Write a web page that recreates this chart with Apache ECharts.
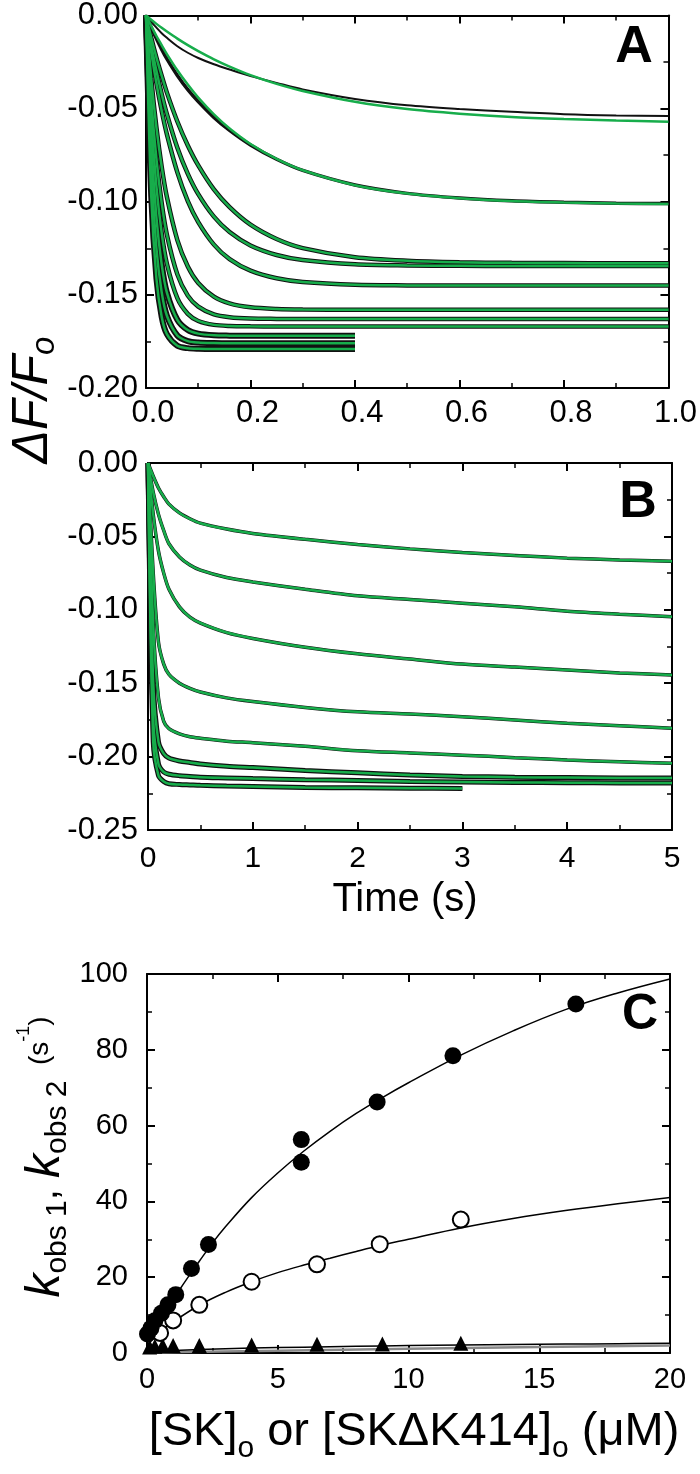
<!DOCTYPE html>
<html><head><meta charset="utf-8">
<script src="https://cdn.jsdelivr.net/npm/echarts@6/dist/echarts.min.js"></script>
<style>html,body{margin:0;padding:0;background:#fff}#c{width:700px;height:1474px}</style>
</head><body><div id="c"></div>
<script>
// ---------- Panel A : time (s) and ΔF/Fo traces ----------
const tA = [0,0.01,0.02,0.03,0.04,0.06,0.08,0.1,0.13,0.16,0.2,0.25,0.3,0.4,0.5,0.6,0.7,0.8,0.9,1.0];
const fitA = [
 [0,-0.0023,-0.0045,-0.0066,-0.0086,-0.0124,-0.0159,-0.0191,-0.0235,-0.0274,-0.0320,-0.0367,-0.0405,-0.0463,-0.0502,-0.0527,-0.0545,-0.0556,-0.0564,-0.0570],
 [0,-0.0056,-0.0110,-0.0159,-0.0207,-0.0294,-0.0371,-0.0441,-0.0531,-0.0607,-0.0690,-0.0770,-0.0831,-0.0911,-0.0956,-0.0981,-0.0996,-0.1004,-0.1009,-0.1012],
 [0,-0.0118,-0.0226,-0.0323,-0.0414,-0.0569,-0.0698,-0.0805,-0.0934,-0.1029,-0.1123,-0.1200,-0.1249,-0.1298,-0.1317,-0.1325,-0.1328,-0.1329,-0.1330,-0.1330],
 [0,-0.0159,-0.0297,-0.0421,-0.0529,-0.0710,-0.0850,-0.0959,-0.1080,-0.1163,-0.1235,-0.1286,-0.1313,-0.1336,-0.1342,-0.1344,-0.1345,-0.1345,-0.1345,-0.1345],
 [0,-0.0196,-0.0365,-0.0512,-0.0638,-0.0842,-0.0996,-0.1109,-0.1230,-0.1308,-0.1370,-0.1411,-0.1431,-0.1446,-0.1449,-0.1450,-0.1450,-0.1450,-0.1450,-0.1450],
 [0,-0.0337,-0.0602,-0.0811,-0.0975,-0.1206,-0.1348,-0.1436,-0.1510,-0.1546,-0.1567,-0.1576,-0.1579,-0.1580,-0.1580,-0.1580,-0.1580,-0.1580,-0.1580,-0.1580],
 [0,-0.0447,-0.0771,-0.1006,-0.1177,-0.1390,-0.1504,-0.1563,-0.1605,-0.1620,-0.1627,-0.1629,-0.1630,-0.1630,-0.1630,-0.1630,-0.1630,-0.1630,-0.1630,-0.1630],
 [0,-0.0551,-0.0920,-0.1167,-0.1333,-0.1518,-0.1602,-0.1640,-0.1661,-0.1667,-0.1669,-0.1670,-0.1670,-0.1670,-0.1670,-0.1670,-0.1670,-0.1670,-0.1670,-0.1670],
 [0,-0.0676,-0.1087,-0.1336,-0.1488,-0.1634,-0.1689,-0.1708,-0.1717,-0.1719,-0.1720,-0.1720,-0.1720,-0.1720],
 [0,-0.0813,-0.1251,-0.1485,-0.1612,-0.1718,-0.1748,-0.1756,-0.1759,-0.1760,-0.1760,-0.1760,-0.1760,-0.1760],
 [0,-0.0970,-0.1414,-0.1618,-0.1711,-0.1773,-0.1786,-0.1789,-0.1790,-0.1790,-0.1790,-0.1790,-0.1790,-0.1790]
];
const rawA1 = [0,-0.0035,-0.0065,-0.0095,-0.012,-0.0165,-0.0200,-0.0228,-0.0262,-0.0290,-0.0325,-0.0362,-0.0397,-0.0448,-0.0482,-0.0502,-0.0517,-0.0530,-0.0537,-0.0540];
const rawA2 = [0,-0.0065,-0.0125,-0.0182,-0.0233,-0.0322,-0.0398,-0.0462,-0.0547,-0.0617,-0.0695,-0.0772,-0.0832,-0.0910,-0.0955,-0.0980,-0.0995,-0.1003,-0.1008,-0.1010];

// ---------- Panel B ----------
const tB = [0,0.05,0.1,0.15,0.2,0.3,0.4,0.5,0.75,1,1.5,2,2.5,3,3.5,4,4.5,5];
const fitB = [
 [0,-0.009,-0.017,-0.023,-0.028,-0.034,-0.038,-0.041,-0.045,-0.048,-0.052,-0.0555,-0.0585,-0.061,-0.063,-0.0648,-0.066,-0.067],
 [0,-0.020,-0.035,-0.046,-0.055,-0.064,-0.0695,-0.073,-0.078,-0.081,-0.086,-0.0905,-0.093,-0.0955,-0.098,-0.101,-0.103,-0.1047],
 [0,-0.035,-0.060,-0.075,-0.086,-0.098,-0.105,-0.109,-0.1155,-0.1195,-0.1255,-0.130,-0.1335,-0.137,-0.139,-0.141,-0.143,-0.1444],
 [0,-0.075,-0.122,-0.137,-0.144,-0.150,-0.1535,-0.156,-0.160,-0.1625,-0.1665,-0.1695,-0.171,-0.1728,-0.175,-0.1773,-0.179,-0.1807],
 [0,-0.110,-0.160,-0.176,-0.181,-0.1845,-0.1865,-0.1875,-0.1895,-0.1905,-0.193,-0.196,-0.1975,-0.199,-0.2007,-0.2023,-0.2035,-0.2046],
 [0,-0.150,-0.190,-0.198,-0.201,-0.203,-0.204,-0.205,-0.2065,-0.2075,-0.2095,-0.211,-0.2125,-0.2135,-0.214,-0.2143,-0.2145,-0.2146],
 [0,-0.175,-0.205,-0.2105,-0.212,-0.213,-0.2135,-0.214,-0.2145,-0.215,-0.2157,-0.2163,-0.217,-0.2173,-0.2176,-0.2178,-0.2179,-0.218],
 [0,-0.190,-0.213,-0.217,-0.2185,-0.219,-0.2193,-0.2196,-0.220,-0.2203,-0.221,-0.2213,-0.2215,-0.2217]
];

// ---------- Panel C ----------
const cFilledX = [0.02,0.15,0.3,0.55,0.8,1.1,1.7,2.35,5.9,5.9,8.8,11.7,16.4];
const cFilledY = [5,6.5,8.5,10.5,12.7,15.4,22.3,28.6,56.3,50.3,66.2,78.4,92.1];
const cOpenX = [0.5,1.0,2.0,4.0,6.5,8.9,12.0];
const cOpenY = [5.3,8.6,12.7,18.8,23.4,28.7,35.2];
const cTriX = [0.1,0.3,0.6,1.0,2.0,4.0,6.5,9.0,12.0];
const cTriY = [1.6,1.8,2.0,2.0,2.0,2.1,2.3,2.4,2.6];
const fitFilledX = [0,0.5,1,1.5,2,2.5,3,4,5,6,7,8,9,10,12,14,16,18,20];
const fitFilledY = [4.5,9.4,14.2,19.3,24.2,29.0,33.3,41.0,47.5,53.3,58.5,63.2,67.4,71.3,78.6,85.0,90.6,95.0,98.7];
const fitOpenX = [0,0.5,1,2,3,4,5,6,7,8,9,10,12,14,16,18,20];
const fitOpenY = [2,5.5,8.2,12.6,16.0,18.8,21.2,23.2,25.0,26.8,28.5,30.0,33.0,35.5,37.6,39.4,41.0];
const fitTriX = [0,1,2,4,6,8,10,12,14,16,18,20];
const fitTriY = [0.2,0.6,0.9,1.3,1.55,1.75,1.95,2.1,2.25,2.35,2.45,2.6];
const grayX = [0,5,10,15,20];
const grayY = [0.1,0.6,1.1,1.6,2.0];

const FONT = '"Liberation Sans", Arial, Helvetica, sans-serif';
const GREEN = '#17ad4b';

function pairs(xs, ys){ return ys.map((y,i)=>[xs[i], y]); }

function xAx(grid, min, max, interval, pos, fmt, margin, fs, padLeft){
  return {
    type:'value', gridIndex:grid, min, max, interval, position:pos,
    axisLine:{show:true, onZero:false, lineStyle:{color:'#000', width:2}},
    axisTick:{show:true, inside:true, length:8, lineStyle:{color:'#000', width:2}},
    minorTick:{show:true, splitNumber:2, length:5, lineStyle:{color:'#000', width:1.5}},
    splitLine:{show:false}, minorSplitLine:{show:false},
    axisLabel: pos==='bottom' ? {show:true, formatter:fmt, fontSize:fs, color:'#000', fontFamily:FONT, margin, padding:[0,0,0,padLeft||0]} : {show:false}
  };
}
function yAx(grid, min, max, interval, pos, fmt, margin, padTop, fs){
  return {
    type:'value', gridIndex:grid, min, max, interval, position:pos,
    axisLine:{show:true, onZero:false, lineStyle:{color:'#000', width:2}},
    axisTick:{show:true, inside:true, length:8, lineStyle:{color:'#000', width:2}},
    minorTick:{show:true, splitNumber:2, length:5, lineStyle:{color:'#000', width:1.5}},
    splitLine:{show:false}, minorSplitLine:{show:false},
    axisLabel: pos==='left' ? {show:true, formatter:fmt, fontSize:fs, color:'#000', fontFamily:FONT, margin, padding:[padTop,0,0,0]} : {show:false}
  };
}

const SM = 0.3;
const series = [];
// Panel A
fitA.forEach((f,i)=>{
  const raw = i===0 ? rawA1 : (i===1 ? rawA2 : f);
  const w = i===0 ? 2 : (i===1 ? 3.5 : (i<8 ? 4.5 : 6));
  series.push({type:'line', xAxisIndex:0, yAxisIndex:0, data:pairs(tA, raw), showSymbol:false, smooth:SM,
    lineStyle:{color:'#111', width:w}, z:2, silent:true});
});
fitA.forEach((f)=>{
  series.push({type:'line', xAxisIndex:0, yAxisIndex:0, data:pairs(tA, f), showSymbol:false, smooth:SM,
    lineStyle:{color:GREEN, width:2.5}, z:3, silent:true});
});
// Panel B
fitB.forEach((f,i)=>{
  series.push({type:'line', xAxisIndex:2, yAxisIndex:2, data:pairs(tB, f), showSymbol:false, smooth:SM,
    lineStyle:{color:'#111', width: i<5 ? 3.5 : 5}, z:2, silent:true});
});
fitB.forEach((f)=>{
  series.push({type:'line', xAxisIndex:2, yAxisIndex:2, data:pairs(tB, f), showSymbol:false, smooth:SM,
    lineStyle:{color:GREEN, width:2.5}, z:3, silent:true});
});
// Panel C
series.push({type:'line', xAxisIndex:4, yAxisIndex:4, data:pairs(grayX, grayY), showSymbol:false, lineStyle:{color:'#888', width:2.5}, z:2});
series.push({type:'line', xAxisIndex:4, yAxisIndex:4, data:pairs(fitTriX, fitTriY), showSymbol:false, smooth:0.4, lineStyle:{color:'#000', width:1.5}, z:2});
series.push({type:'line', xAxisIndex:4, yAxisIndex:4, data:pairs(fitOpenX, fitOpenY), showSymbol:false, smooth:0.4, lineStyle:{color:'#000', width:1.5}, z:2});
series.push({type:'line', xAxisIndex:4, yAxisIndex:4, data:pairs(fitFilledX, fitFilledY), showSymbol:false, smooth:0.4, lineStyle:{color:'#000', width:1.5}, z:2});
series.push({type:'scatter', xAxisIndex:4, yAxisIndex:4, data:pairs(cTriX, cTriY), symbol:'triangle', symbolSize:15, itemStyle:{color:'#000', opacity:1}, z:4});
series.push({type:'scatter', xAxisIndex:4, yAxisIndex:4, data:pairs(cOpenX, cOpenY), symbol:'circle', symbolSize:16, itemStyle:{color:'#fff', borderColor:'#000', borderWidth:2, opacity:1}, z:4});
series.push({type:'scatter', xAxisIndex:4, yAxisIndex:4, data:pairs(cFilledX, cFilledY), symbol:'circle', symbolSize:17, itemStyle:{color:'#000', opacity:1}, z:5});

// ---------- rich labels built from measured pieces ----------
const cv = document.createElement('canvas').getContext('2d');
function fontStr(p){ return (p.italic?'italic ':'') + (p.bold?'bold ':'') + p.size + 'px ' + FONT; }
function label(pieces, cx, cy, rot){
  let widths = pieces.map(p=>{ cv.font = fontStr(p); return cv.measureText(p.t).width; });
  const total = widths.reduce((a,b)=>a+b,0);
  let x = -total/2;
  const children = pieces.map((p,i)=>{
    const el = {type:'text', x:x, y:(p.dy||0), style:{text:p.t, font:fontStr(p), fill:'#000',
      align:'left', verticalAlign:'middle', textAlign:'left', textVerticalAlign:'middle'}};
    x += widths[i];
    return el;
  });
  return {type:'group', x:cx, y:cy, rotation:rot||0, children};
}

const graphic = [
  label([{t:'A', size:52, bold:true}], 634, 48),
  label([{t:'B', size:52, bold:true}], 638, 503),
  label([{t:'C', size:50, bold:true}], 640, 1015),
  label([{t:'ΔF/F', size:50, italic:true},{t:'o', size:33, italic:true, dy:12}], 33, 400, Math.PI/2),
  label([{t:'Time (s)', size:40}], 405, 900),
  label([{t:'[SK]', size:47},{t:'o', size:30, dy:17},{t:' or [SKΔK414]', size:47},{t:'o', size:30, dy:17},{t:' (μM)', size:47}], 414, 1432),
  label([{t:'k', size:48, italic:true},{t:'obs 1', size:30, dy:12},{t:', ', size:40},{t:'k', size:48, italic:true},{t:'obs 2', size:30, dy:12},
         {t:'  (s', size:28, dy:-6},{t:'-1', size:18, dy:-22},{t:')', size:28, dy:-6}], 46, 1157, Math.PI/2)
];

const option = {
  animation:false,
  backgroundColor:'#fff',
  grid:[
    {left:146, top:8, width:525, height:380},
    {left:148, top:463, width:524, height:367},
    {left:147, top:974, width:523, height:379}
  ],
  xAxis:[
    xAx(0,0,1,0.2,'bottom',v=>v.toFixed(1),10,31,14),
    xAx(0,0,1,0.2,'top'),
    xAx(1,0,5,1,'bottom',v=>String(v),14,30,0),
    xAx(1,0,5,1,'top'),
    xAx(2,0,20,5,'bottom',v=>String(v),12,29,0),
    xAx(2,0,20,5,'top')
  ],
  yAxis:[
    yAx(0,-0.2,0,0.05,'left',v=>v.toFixed(2),8,16,31),
    yAx(0,-0.2,0,0.05,'right'),
    yAx(1,-0.25,0,0.05,'left',v=>v.toFixed(2),10,16,31),
    yAx(1,-0.25,0,0.05,'right'),
    yAx(2,0,100,20,'left',v=>String(v),19,8,29),
    yAx(2,0,100,20,'right')
  ],
  series,
  graphic
};
const chart = echarts.init(document.getElementById('c'), null, {renderer:'canvas'});
chart.setOption(option);
</script>
</body></html>
